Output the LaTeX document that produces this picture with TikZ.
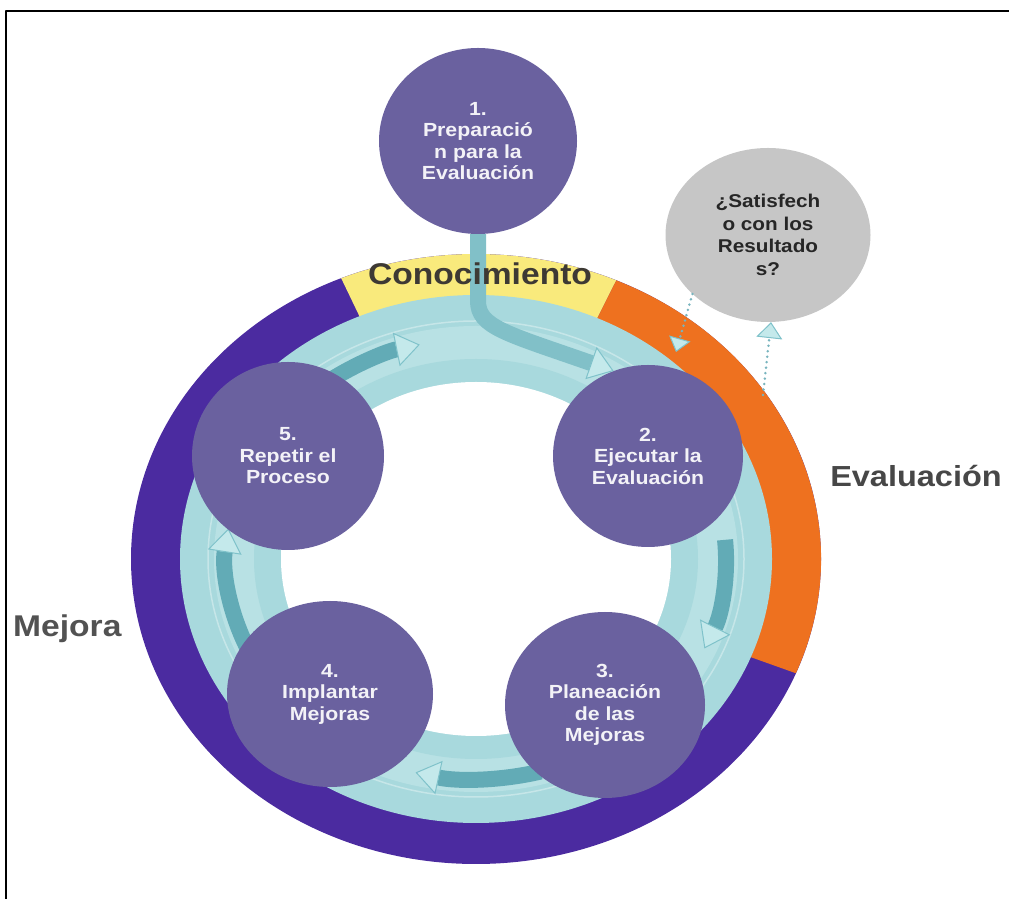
\documentclass[tikz,border=0pt]{standalone}
\usepackage{fontspec}
\setmainfont{Liberation Sans}
\newfontfamily\etiq{Liberation Sans}[FakeStretch=1.12]
\usetikzlibrary{arrows.meta,shapes.geometric}
\definecolor{anillo}{HTML}{4B2BA0}
\definecolor{amarillo}{HTML}{F9EA7C}
\definecolor{naranja}{HTML}{EE711F}
\definecolor{agua}{HTML}{A8D9DD}
\definecolor{aguamedia}{HTML}{B8E1E4}
\definecolor{aguaosc}{HTML}{62ABB6}
\definecolor{aguaclara}{HTML}{C4E9EB}
\definecolor{aguaborde}{HTML}{7FC2CA}
\definecolor{puntos}{HTML}{78B4BE}
\definecolor{etapa}{HTML}{6A619F}
\definecolor{gris}{HTML}{C6C6C6}
\begin{document}
\begin{tikzpicture}[x=1pt,y=1pt,line join=round,
	fase/.style={ellipse,fill=etapa,minimum width=198pt,minimum height=186pt,inner sep=0pt,align=center,
		text=white!92!etapa,font=\etiq\bfseries\fontsize{19}{21.5}\selectfont},
	pregunta/.style={ellipse,fill=gris,minimum width=205pt,minimum height=174pt,inner sep=0pt,align=center,
		text=black!85,font=\etiq\bfseries\fontsize{18.5}{22.5}\selectfont},
	titulo/.style={font=\etiq\bfseries\fontsize{30}{30}\selectfont},
	flecha/.style={line width=16pt,draw=aguaosc,
		-{Triangle[length=24pt,width=34pt,fill=aguaclara,color=aguaborde,line width=1pt]}},
	punteado/.style={draw=puntos,line width=2.8pt,dash pattern=on 0pt off 5.5pt,line cap=round}]
	\useasboundingbox (0,0) rectangle (1009,899);
	\draw[line width=1.6pt] (6,0)--(6,888)--(1009,888);
	% anillo exterior
	\begin{scope}[shift={(476,340)}]
		\fill[anillo] (0,0) ellipse [x radius=345,y radius=305];
		\fill[amarillo] (0,0)--(66:345 and 305) arc[start angle=66,end angle=113,x radius=345,y radius=305]--cycle;
		\fill[naranja] (0,0)--(-22:345 and 305) arc[start angle=-22,end angle=66,x radius=345,y radius=305]--cycle;
		\fill[agua] (0,0) ellipse [x radius=296,y radius=264];
		\fill[aguamedia] (0,0) ellipse [x radius=262,y radius=233];
		\fill[agua] (0,0) ellipse [x radius=222,y radius=200];
		\draw[white,opacity=.35,line width=1.5pt] (0,0) ellipse [x radius=268,y radius=238];
		\fill[white] (0,0) ellipse [x radius=195,y radius=177];
		\foreach \a/\b in {126/103,5/-24,285/256,204/172}
			\draw[flecha] (\a:250 and 220) arc[start angle=\a,end angle=\b,x radius=250,y radius=220];
	\end{scope}
	% etapas
	\node[fase] (c1) at (478,758) {1.\\Preparació\\n para la\\Evaluación};
	\node[fase,minimum width=190pt,minimum height=182pt] (c2) at (648,443) {2.\\Ejecutar la\\Evaluación};
	\node[fase,minimum width=200pt] (c3) at (605,194) {3.\\Planeación\\de las\\Mejoras};
	\node[fase,minimum width=206pt] (c4) at (330,205) {4.\\Implantar\\Mejoras};
	\node[fase,minimum width=192pt,minimum height=188pt] (c5) at (288,443) {5.\\Repetir el\\Proceso};
	\node[pregunta] (g) at (768,664) {¿Satisfech\\o con los\\Resultado\\s?};
	\draw[flecha,draw=aguaosc!55!agua] (c1.south)--(478,598) .. controls (478,572) and (505,566) .. (c2.112);
	% titulos
	\node[titulo,text=black!78!yellow!55!black,anchor=base] (cono) at (480,614) {Conocimiento};
	\node[titulo,text=black!72,anchor=base,font=\etiq\bfseries\fontsize{29}{29}\selectfont] (eval) at (916,412) {Evaluación};
	\node[titulo,text=black!68,anchor=base west,inner sep=0pt] (mejora) at (13,262) {Mejora};
	% salida punteada
	\coordinate (eva) at (763,504);
	\coordinate (ret) at (676,547);
	\draw[punteado,-{Triangle[length=16pt,width=26pt,fill=aguaclara,color=aguaborde,line width=1pt]}] (eva)--(g.272);
	\draw[punteado,-{Triangle[length=14pt,width=22pt,fill=aguaclara,color=aguaborde,line width=1pt]}] (g.218)--(ret);
\end{tikzpicture}
\end{document}
